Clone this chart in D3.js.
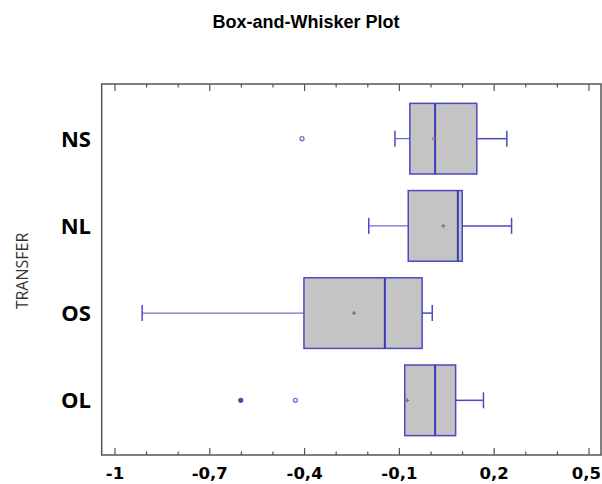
<!DOCTYPE html>
<html>
<head>
<meta charset="utf-8">
<script src="https://cdn.jsdelivr.net/npm/d3@7"></script>
<style>
  body { margin: 0; background: #fff; }
</style>
</head>
<body>
<script>
// values
let categories = ['NS', 'NL', 'OS', 'OL'];
let q1 = [-0.067, -0.072, -0.402, -0.083];
let median = [0.013, 0.085, -0.146, 0.013];
let q3 = [0.145, 0.099, -0.028, 0.078];
let whiskerLo = [-0.114, -0.197, -0.914, -0.083];
let whiskerHi = [0.24, 0.255, 0.004, 0.166];
let means = [0.01, 0.039, -0.244, -0.075];
let outliers = [
  { cat: 'NS', v: -0.408, far: false },
  { cat: 'OL', v: -0.602, far: true },
  { cat: 'OL', v: -0.429, far: false },
];
let majorTicks = [-1, -0.7, -0.4, -0.1, 0.2, 0.5];
let minorTicks = d3.range(-10, 6).map((d) => d / 10);

let dim = { width: 602, height: 484 };
let svg = d3.select('body').append('svg').attr('width', dim.width).attr('height', dim.height);

let box = { left: 101.7, right: 601, top: 84, bottom: 455 };

let x = d3.scaleLinear().domain([-1.042, 0.538]).range([box.left, box.right]);
let y = d3.scalePoint().domain(categories).range([box.top, box.bottom]).padding(0.627);
let bh = y.step() * 0.81;

let stroke = '#4a4ac4';
let fmt = (d) => String(d).replace('.', ',');

// title
svg.append('text')
  .attr('x', 306).attr('y', 27.5)
  .attr('text-anchor', 'middle')
  .style('font', 'bold 18px "Liberation Sans", Arial, sans-serif')
  .text('Box-and-Whisker Plot');

// frame
svg.append('rect')
  .attr('x', box.left).attr('y', box.top)
  .attr('width', box.right - box.left).attr('height', box.bottom - box.top)
  .attr('fill', 'none').attr('stroke', '#555').attr('stroke-width', 1.5);

// ticks top and bottom
let isMajor = (d) => majorTicks.some((m) => Math.abs(m - d) < 1e-9);
svg.append('g').selectAll('line').data(minorTicks).enter().append('line')
  .attr('x1', (d) => x(d)).attr('x2', (d) => x(d))
  .attr('y1', box.bottom).attr('y2', (d) => box.bottom - (isMajor(d) ? 7 : 3.5))
  .attr('stroke', '#555').attr('stroke-width', 1.2);
svg.append('g').selectAll('line').data(minorTicks).enter().append('line')
  .attr('x1', (d) => x(d)).attr('x2', (d) => x(d))
  .attr('y1', box.top).attr('y2', (d) => box.top + (isMajor(d) ? 7 : 3.5))
  .attr('stroke', '#555').attr('stroke-width', 1.2);

// last label sits against the right edge, as in the picture
svg.append('g').selectAll('text').data(majorTicks).enter().append('text')
  .attr('x', (d, i) => (i == majorTicks.length - 1 ? dim.width - 1 : x(d)))
  .attr('y', 479)
  .attr('text-anchor', (d, i) => (i == majorTicks.length - 1 ? 'end' : 'middle'))
  .style('font', 'bold 16.5px "DejaVu Sans", sans-serif')
  .text(fmt);

// category labels
svg.append('g').selectAll('text').data(categories).enter().append('text')
  .attr('x', 91).attr('y', (d) => y(d))
  .attr('dy', '0.36em')
  .attr('text-anchor', 'end')
  .style('font', 'bold 22px "Open Sans", sans-serif')
  .text((d) => d);

svg.append('text')
  .attr('transform', 'translate(28,271) rotate(-90)')
  .attr('text-anchor', 'middle')
  .style('font', '16px "Open Sans", sans-serif')
  .attr('fill', '#333')
  .text('TRANSFER');

// boxes
let g = svg.append('g').selectAll('g').data(categories).enter().append('g');

// whiskers
g.append('line')
  .attr('x1', (d, i) => x(whiskerLo[i])).attr('x2', (d, i) => x(q1[i]))
  .attr('y1', (d) => y(d)).attr('y2', (d) => y(d))
  .attr('stroke', stroke).attr('stroke-width', 1);
g.append('line')
  .attr('x1', (d, i) => x(q3[i])).attr('x2', (d, i) => x(whiskerHi[i]))
  .attr('y1', (d) => y(d)).attr('y2', (d) => y(d))
  .attr('stroke', stroke).attr('stroke-width', 1.5);
g.append('line')
  .attr('x1', (d, i) => x(whiskerLo[i])).attr('x2', (d, i) => x(whiskerLo[i]))
  .attr('y1', (d) => y(d) - 8).attr('y2', (d) => y(d) + 8)
  .attr('stroke', stroke).attr('stroke-width', 1.5);
g.append('line')
  .attr('x1', (d, i) => x(whiskerHi[i])).attr('x2', (d, i) => x(whiskerHi[i]))
  .attr('y1', (d) => y(d) - 8).attr('y2', (d) => y(d) + 8)
  .attr('stroke', stroke).attr('stroke-width', 1.5);

g.append('rect')
  .attr('x', (d, i) => x(q1[i])).attr('width', (d, i) => x(q3[i]) - x(q1[i]))
  .attr('y', (d) => y(d) - bh / 2).attr('height', bh)
  .attr('fill', '#c4c4c4').attr('stroke', stroke).attr('stroke-width', 1.5);

g.append('line')
  .attr('x1', (d, i) => x(median[i])).attr('x2', (d, i) => x(median[i]))
  .attr('y1', (d) => y(d) - bh / 2).attr('y2', (d) => y(d) + bh / 2)
  .attr('stroke', '#3b3bb8').attr('stroke-width', 2);

// means
g.append('path')
  .attr('d', (d, i) => `M${x(means[i]) - 2},${y(d)}h4M${x(means[i])},${y(d) - 2}v4`)
  .attr('stroke', '#a0605a').attr('stroke-width', 1.2);

// outliers
svg.append('g').selectAll('circle').data(outliers).enter().append('circle')
  .attr('cx', (d) => x(d.v)).attr('cy', (d) => y(d.cat))
  .attr('r', 2)
  .attr('fill', (d) => (d.far ? '#3a52a8' : 'white'))
  .attr('stroke', (d) => (d.far ? '#3a52a8' : '#6a6ad0'))
  .attr('stroke-width', 1.2);
</script>
</body>
</html>
